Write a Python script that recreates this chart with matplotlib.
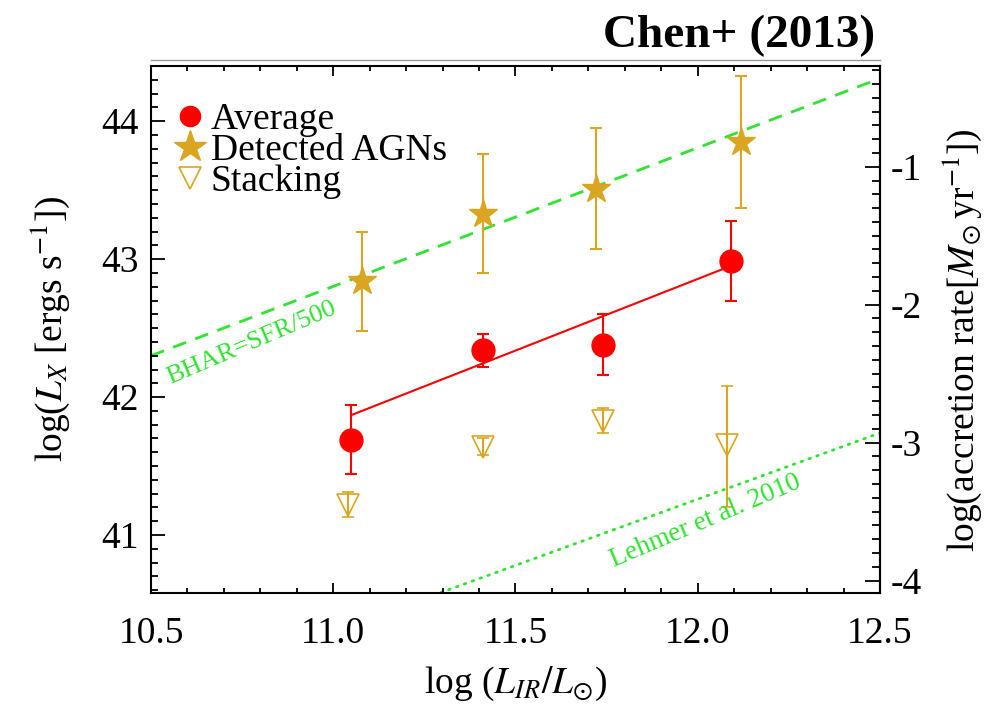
import matplotlib
matplotlib.use("Agg")
import matplotlib.pyplot as plt
from matplotlib.lines import Line2D
from matplotlib.ticker import MultipleLocator

plt.rcParams['font.family'] = ['Liberation Serif', 'DejaVu Serif']
plt.rcParams['mathtext.fontset'] = 'stix'
plt.rcParams['axes.unicode_minus'] = False

# Average X-ray luminosity per L_IR bin
avg_x = [11.05, 11.41, 11.74, 12.09]
avg_y = [41.69, 42.34, 42.38, 42.99]
avg_err = [0.25, 0.12, 0.22, 0.29]

# Detected AGNs
agn_x = [11.08, 11.41, 11.72, 12.12]
agn_y = [42.84, 43.33, 43.51, 43.85]
agn_err = [0.36, 0.43, 0.44, 0.48]

# Stacking of undetected sources
stack_x = [11.04, 11.41, 11.74, 12.08]
stack_y = [41.22, 41.64, 41.83, 41.65]
stack_err_lo = [0.09, 0.06, 0.09, 0.45]
stack_err_hi = [0.09, 0.06, 0.09, 0.43]

# Linear fit to the averages
fit_x = [11.05, 12.09]
fit_y = [41.87, 42.95]

# Reference relations
sfr_x = [10.5, 12.5]
sfr_y = [42.30, 44.31]
lehmer_x = [10.5, 12.5]
lehmer_y = [39.82, 41.74]

# log L_X -> log BHAR offset for the right-hand axis
bhar_offset = 44.67

gold = '#DAA520'
green = '#2EE42E'

fig = plt.figure(figsize=(10.04, 7.06), dpi=100)
ax = fig.add_axes([151 / 1004, 1 - 593 / 706, 729 / 1004, 527 / 706])

ax.plot(sfr_x, sfr_y, color=green, lw=2.0, ls=(0, (5, 3.5)), zorder=1)
ax.plot(lehmer_x, lehmer_y, color=green, lw=2.0, ls=(0, (0.6, 2.4)),
        dash_capstyle='round', zorder=1)

ax.plot(fit_x, fit_y, color='red', lw=1.5, zorder=2)

ax.errorbar(avg_x, avg_y, yerr=avg_err, fmt='o', color='red', ms=16.5,
            capsize=4, elinewidth=1.5, capthick=1.5, zorder=3)
ax.errorbar(agn_x, agn_y, yerr=agn_err, fmt='*', color=gold, ms=21,
            capsize=4, elinewidth=1.5, capthick=1.5, zorder=3)
ax.errorbar(stack_x, stack_y, yerr=[stack_err_lo, stack_err_hi], fmt='v',
            color=gold, mfc='none', mec=gold, mew=1.2, ms=16.5,
            capsize=4, elinewidth=1.5, capthick=1.5, zorder=3)

ax.text(10.777, 42.39, 'BHAR=SFR/500', color=green, fontsize=19,
        rotation=23, ha='center', va='center')
ax.text(12.022, 41.10, 'Lehmer et al. 2010', color=green, fontsize=19.5,
        rotation=23, ha='center', va='center')

ax.set_xlim(10.5, 12.5)
ax.set_ylim(40.58, 44.40)
ax.xaxis.set_major_locator(MultipleLocator(0.5))
ax.xaxis.set_minor_locator(MultipleLocator(0.1))
ax.yaxis.set_major_locator(MultipleLocator(1))
ax.yaxis.set_minor_locator(MultipleLocator(0.1))
ax.set_xticks([10.5, 11.0, 11.5, 12.0, 12.5])
ax.set_xticklabels(['10.5', '11.0', '11.5', '12.0', '12.5'])

for s in ax.spines.values():
    s.set_linewidth(1.5)

ax.tick_params(axis='x', which='major', direction='in', length=7, width=1.3,
               top=True, labelsize=27, pad=17)
ax.tick_params(axis='x', which='minor', direction='in', length=3.5, width=1.3,
               top=True)
ax.tick_params(axis='y', which='major', direction='in', length=10, width=1.3,
               right=False, labelsize=27, pad=9)
ax.tick_params(axis='y', which='minor', direction='in', length=5, width=1.3,
               right=False)

sec = ax.secondary_yaxis('right', functions=(lambda y: y - bhar_offset,
                                             lambda b: b + bhar_offset))
sec.yaxis.set_major_locator(MultipleLocator(1))
sec.yaxis.set_minor_locator(MultipleLocator(0.1))
sec.spines['right'].set_linewidth(1.5)
sec.tick_params(which='major', direction='in', length=11, width=1.3,
                labelsize=27, pad=8)
sec.tick_params(which='minor', direction='in', length=6, width=1.3)

ax.set_xlabel(r'log ($L_{IR}/L_{\odot}$)', fontsize=27)
ax.xaxis.set_label_coords(515 / 1004, 1 - 684 / 706, transform=fig.transFigure)
ax.xaxis.label.set_va('center')

ax.set_ylabel(r'log($L_X$ [ergs s$^{-1}$])', fontsize=27)
ax.yaxis.set_label_coords(50 / 1004, 1 - 329 / 706, transform=fig.transFigure)
ax.yaxis.label.set_va('center')
ax.yaxis.label.set_rotation_mode('default')

sec.set_ylabel(r'log(accretion rate[$M_{\odot}\,$yr$^{-1}$])', fontsize=27)
sec.yaxis.set_label_coords(962 / 1004, 1 - 340 / 706, transform=fig.transFigure)
sec.yaxis.label.set_va('center')
sec.yaxis.label.set_rotation_mode('default')

handles = [
    Line2D([], [], ls='none', marker='o', color='red', ms=14.5),
    Line2D([], [], ls='none', marker='*', color=gold, ms=24),
    Line2D([], [], ls='none', marker='v', mfc='none', mec=gold, mew=1.2, ms=16),
]
ax.legend(handles, ['Average', 'Detected AGNs', 'Stacking'],
          loc='upper left', bbox_to_anchor=(0.033, 0.930), frameon=False,
          fontsize=27, handlelength=0.8, handletextpad=0.15,
          labelspacing=-0.1, borderpad=0, borderaxespad=0, numpoints=1)

fig.add_artist(Line2D([151 / 1004, 880 / 1004], [1 - 60 / 706] * 2,
                      color='#999999', lw=1.0))
fig.text(875 / 1004, 1 - 36 / 706, 'Chen+ (2013)', fontsize=34,
         fontweight='bold', ha='right', va='center')

fig.savefig('out.png', dpi=100)
